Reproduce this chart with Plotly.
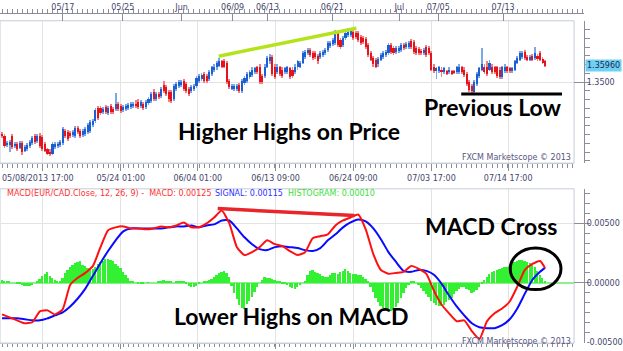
import plotly.graph_objects as go

W, H = 623, 351

# ---------------- data (EUR/CAD, 8h-ish bars) ----------------
open_ = [
    1.3206, 1.3195, 1.3144, 1.3144, 1.3195, 1.3138, 1.3150, 1.3127, 1.3155, 1.3110,
    1.3121, 1.3138, 1.3155, 1.3195, 1.3167, 1.3195, 1.3189, 1.3150, 1.3116, 1.3104,
    1.3093, 1.3133, 1.3138, 1.3144, 1.3155, 1.3223, 1.3217, 1.3212, 1.3201, 1.3195,
    1.3240, 1.3223, 1.3201, 1.3206, 1.3217, 1.3223, 1.3257, 1.3280, 1.3353, 1.3353,
    1.3330, 1.3359, 1.3325, 1.3364, 1.3347, 1.3347, 1.3376, 1.3364, 1.3342, 1.3347,
    1.3353, 1.3359, 1.3364, 1.3376, 1.3387, 1.3364, 1.3376, 1.3359, 1.3381, 1.3393,
    1.3443, 1.3404, 1.3432, 1.3421, 1.3483, 1.3472, 1.3443, 1.3443, 1.3404, 1.3460,
    1.3477, 1.3483, 1.3506, 1.3489, 1.3460, 1.3449, 1.3460, 1.3477, 1.3506, 1.3517,
    1.3545, 1.3534, 1.3517, 1.3545, 1.3568, 1.3585, 1.3596, 1.3619, 1.3619, 1.3613,
    1.3506, 1.3466, 1.3460, 1.3460, 1.3483, 1.3449, 1.3494, 1.3506, 1.3528, 1.3540,
    1.3556, 1.3585, 1.3590, 1.3534, 1.3534, 1.3590, 1.3619, 1.3647, 1.3590, 1.3556,
    1.3585, 1.3573, 1.3556, 1.3556, 1.3579, 1.3573, 1.3556, 1.3585, 1.3590, 1.3613,
    1.3647, 1.3670, 1.3686, 1.3670, 1.3670, 1.3653, 1.3647, 1.3658, 1.3670, 1.3686,
    1.3709, 1.3720, 1.3726, 1.3782, 1.3743, 1.3715, 1.3754, 1.3771, 1.3771, 1.3788,
    1.3782, 1.3782, 1.3760, 1.3754, 1.3749, 1.3715, 1.3670, 1.3641, 1.3630, 1.3602,
    1.3630, 1.3647, 1.3658, 1.3670, 1.3715, 1.3698, 1.3675, 1.3681, 1.3686, 1.3715,
    1.3703, 1.3703, 1.3737, 1.3732, 1.3698, 1.3692, 1.3681, 1.3670, 1.3703, 1.3698,
    1.3670, 1.3590, 1.3562, 1.3562, 1.3573, 1.3556, 1.3562, 1.3556, 1.3562, 1.3562,
    1.3556, 1.3556, 1.3585, 1.3573, 1.3545, 1.3500, 1.3477, 1.3443, 1.3489, 1.3534,
    1.3573, 1.3590, 1.3590, 1.3573, 1.3590, 1.3585, 1.3585, 1.3573, 1.3528, 1.3562,
    1.3585, 1.3579, 1.3562, 1.3573, 1.3613, 1.3630, 1.3647, 1.3675, 1.3647, 1.3630,
    1.3653, 1.3641, 1.3653, 1.3670, 1.3636, 1.3619,
]
high = [
    1.3218, 1.3206, 1.3167, 1.3172, 1.3206, 1.3161, 1.3161, 1.3167, 1.3167, 1.3144,
    1.3155, 1.3172, 1.3195, 1.3206, 1.3206, 1.3212, 1.3201, 1.3161, 1.3127, 1.3116,
    1.3161, 1.3161, 1.3161, 1.3172, 1.3246, 1.3234, 1.3229, 1.3223, 1.3229, 1.3251,
    1.3251, 1.3234, 1.3234, 1.3246, 1.3268, 1.3285, 1.3291, 1.3353, 1.3364, 1.3364,
    1.3359, 1.3370, 1.3364, 1.3376, 1.3359, 1.3438, 1.3387, 1.3376, 1.3370, 1.3376,
    1.3381, 1.3387, 1.3387, 1.3398, 1.3404, 1.3398, 1.3387, 1.3398, 1.3415, 1.3443,
    1.3460, 1.3443, 1.3443, 1.3472, 1.3506, 1.3483, 1.3455, 1.3455, 1.3489, 1.3500,
    1.3511, 1.3511, 1.3517, 1.3500, 1.3472, 1.3483, 1.3489, 1.3534, 1.3545, 1.3551,
    1.3556, 1.3545, 1.3568, 1.3596, 1.3602, 1.3624, 1.3641, 1.3630, 1.3636, 1.3624,
    1.3517, 1.3489, 1.3489, 1.3489, 1.3494, 1.3517, 1.3534, 1.3556, 1.3568, 1.3585,
    1.3590, 1.3596, 1.3602, 1.3545, 1.3602, 1.3653, 1.3664, 1.3658, 1.3602, 1.3602,
    1.3596, 1.3585, 1.3590, 1.3596, 1.3590, 1.3585, 1.3602, 1.3630, 1.3624, 1.3681,
    1.3686, 1.3698, 1.3698, 1.3681, 1.3681, 1.3664, 1.3681, 1.3686, 1.3698, 1.3737,
    1.3737, 1.3754, 1.3799, 1.3794, 1.3754, 1.3766, 1.3794, 1.3811, 1.3811, 1.3799,
    1.3794, 1.3794, 1.3771, 1.3766, 1.3760, 1.3726, 1.3681, 1.3653, 1.3641, 1.3647,
    1.3670, 1.3681, 1.3686, 1.3726, 1.3726, 1.3709, 1.3709, 1.3709, 1.3726, 1.3726,
    1.3732, 1.3737, 1.3749, 1.3743, 1.3709, 1.3703, 1.3692, 1.3698, 1.3715, 1.3709,
    1.3681, 1.3602, 1.3590, 1.3596, 1.3585, 1.3590, 1.3573, 1.3585, 1.3573, 1.3573,
    1.3596, 1.3602, 1.3596, 1.3585, 1.3556, 1.3511, 1.3489, 1.3511, 1.3556, 1.3590,
    1.3698, 1.3602, 1.3619, 1.3630, 1.3602, 1.3596, 1.3596, 1.3585, 1.3596, 1.3602,
    1.3596, 1.3590, 1.3590, 1.3630, 1.3653, 1.3681, 1.3681, 1.3686, 1.3658, 1.3658,
    1.3664, 1.3703, 1.3664, 1.3681, 1.3647, 1.3630,
]
low = [
    1.3184, 1.3127, 1.3133, 1.3099, 1.3121, 1.3127, 1.3110, 1.3116, 1.3082, 1.3099,
    1.3110, 1.3127, 1.3144, 1.3150, 1.3155, 1.3127, 1.3110, 1.3099, 1.3082, 1.3076,
    1.3082, 1.3121, 1.3127, 1.3133, 1.3144, 1.3184, 1.3167, 1.3184, 1.3189, 1.3184,
    1.3206, 1.3184, 1.3189, 1.3195, 1.3206, 1.3212, 1.3246, 1.3268, 1.3285, 1.3314,
    1.3319, 1.3319, 1.3314, 1.3319, 1.3319, 1.3336, 1.3336, 1.3325, 1.3330, 1.3336,
    1.3342, 1.3347, 1.3353, 1.3353, 1.3347, 1.3353, 1.3342, 1.3347, 1.3370, 1.3381,
    1.3393, 1.3393, 1.3404, 1.3410, 1.3438, 1.3421, 1.3387, 1.3381, 1.3393, 1.3449,
    1.3466, 1.3472, 1.3449, 1.3438, 1.3421, 1.3438, 1.3449, 1.3466, 1.3494, 1.3506,
    1.3494, 1.3494, 1.3506, 1.3534, 1.3556, 1.3573, 1.3585, 1.3579, 1.3579, 1.3489,
    1.3460, 1.3455, 1.3449, 1.3449, 1.3438, 1.3438, 1.3483, 1.3494, 1.3517, 1.3528,
    1.3545, 1.3545, 1.3489, 1.3489, 1.3523, 1.3579, 1.3607, 1.3534, 1.3517, 1.3545,
    1.3534, 1.3523, 1.3545, 1.3545, 1.3517, 1.3523, 1.3545, 1.3573, 1.3579, 1.3602,
    1.3636, 1.3658, 1.3647, 1.3630, 1.3636, 1.3607, 1.3636, 1.3647, 1.3658, 1.3675,
    1.3698, 1.3709, 1.3715, 1.3703, 1.3692, 1.3703, 1.3743, 1.3760, 1.3760, 1.3743,
    1.3749, 1.3732, 1.3715, 1.3720, 1.3692, 1.3647, 1.3619, 1.3590, 1.3579, 1.3590,
    1.3619, 1.3636, 1.3647, 1.3658, 1.3664, 1.3658, 1.3664, 1.3670, 1.3675, 1.3686,
    1.3692, 1.3692, 1.3692, 1.3664, 1.3658, 1.3658, 1.3658, 1.3658, 1.3647, 1.3658,
    1.3562, 1.3551, 1.3517, 1.3551, 1.3528, 1.3545, 1.3540, 1.3545, 1.3540, 1.3545,
    1.3545, 1.3545, 1.3545, 1.3528, 1.3477, 1.3443, 1.3438, 1.3438, 1.3477, 1.3523,
    1.3562, 1.3545, 1.3534, 1.3562, 1.3545, 1.3545, 1.3523, 1.3517, 1.3517, 1.3551,
    1.3551, 1.3551, 1.3551, 1.3562, 1.3602, 1.3619, 1.3636, 1.3630, 1.3619, 1.3619,
    1.3619, 1.3630, 1.3624, 1.3619, 1.3602, 1.3590,
]
close = [
    1.3195, 1.3138, 1.3155, 1.3161, 1.3133, 1.3150, 1.3121, 1.3155, 1.3104, 1.3133,
    1.3144, 1.3161, 1.3184, 1.3161, 1.3195, 1.3138, 1.3121, 1.3110, 1.3093, 1.3088,
    1.3150, 1.3150, 1.3150, 1.3161, 1.3234, 1.3195, 1.3178, 1.3195, 1.3217, 1.3240,
    1.3217, 1.3195, 1.3223, 1.3234, 1.3257, 1.3274, 1.3280, 1.3342, 1.3297, 1.3325,
    1.3347, 1.3330, 1.3353, 1.3330, 1.3330, 1.3376, 1.3347, 1.3336, 1.3359, 1.3364,
    1.3370, 1.3376, 1.3376, 1.3364, 1.3359, 1.3387, 1.3353, 1.3387, 1.3404, 1.3432,
    1.3404, 1.3432, 1.3415, 1.3460, 1.3449, 1.3432, 1.3404, 1.3393, 1.3477, 1.3489,
    1.3500, 1.3500, 1.3460, 1.3449, 1.3432, 1.3472, 1.3477, 1.3523, 1.3534, 1.3540,
    1.3506, 1.3506, 1.3556, 1.3585, 1.3590, 1.3613, 1.3624, 1.3590, 1.3590, 1.3500,
    1.3472, 1.3477, 1.3477, 1.3477, 1.3449, 1.3506, 1.3523, 1.3545, 1.3556, 1.3573,
    1.3579, 1.3556, 1.3500, 1.3500, 1.3590, 1.3641, 1.3647, 1.3545, 1.3528, 1.3590,
    1.3545, 1.3534, 1.3579, 1.3585, 1.3528, 1.3534, 1.3590, 1.3619, 1.3613, 1.3670,
    1.3675, 1.3686, 1.3658, 1.3641, 1.3647, 1.3619, 1.3670, 1.3675, 1.3686, 1.3726,
    1.3726, 1.3743, 1.3788, 1.3715, 1.3703, 1.3754, 1.3782, 1.3788, 1.3799, 1.3754,
    1.3760, 1.3743, 1.3726, 1.3732, 1.3703, 1.3658, 1.3630, 1.3602, 1.3590, 1.3636,
    1.3658, 1.3670, 1.3675, 1.3715, 1.3675, 1.3670, 1.3698, 1.3698, 1.3715, 1.3698,
    1.3720, 1.3726, 1.3703, 1.3675, 1.3670, 1.3670, 1.3670, 1.3686, 1.3658, 1.3670,
    1.3573, 1.3562, 1.3579, 1.3585, 1.3556, 1.3579, 1.3551, 1.3573, 1.3551, 1.3556,
    1.3585, 1.3590, 1.3556, 1.3540, 1.3489, 1.3455, 1.3449, 1.3500, 1.3545, 1.3579,
    1.3602, 1.3556, 1.3545, 1.3613, 1.3556, 1.3556, 1.3534, 1.3528, 1.3585, 1.3590,
    1.3562, 1.3562, 1.3579, 1.3619, 1.3641, 1.3670, 1.3670, 1.3641, 1.3630, 1.3647,
    1.3630, 1.3670, 1.3636, 1.3630, 1.3613, 1.3596,
]

histogram = [
    0.00025, 0.00017, 0.00008, 0.00008, 0.0, 0.0, -0.00008, -0.00008, -0.00017, -0.00025,
    -0.00025, -0.00025, -0.00017, 0.0, 0.00017, 0.00033, 0.00058, 0.00075, 0.00092, 0.00058,
    0.00042, 0.00025, 0.00017, 0.00017, 0.00042, 0.00083, 0.00108, 0.00133, 0.00150, 0.00167,
    0.00175, 0.00183, 0.00150, 0.00142, 0.00125, 0.00108, 0.00117, 0.00133, 0.00158, 0.00175,
    0.00183, 0.00200, 0.00200, 0.00192, 0.00183, 0.00158, 0.00142, 0.00125, 0.00092, 0.00067,
    0.00042, 0.00017, 0.00008, 0.0, -0.00008, -0.00008, -0.00008, 0.0, 0.00004, 0.0,
    0.0, 0.0, 0.00008, 0.00017, 0.00025, 0.00017, 0.00008, 0.00008, 0.0, 0.00008,
    0.00008, 0.00017, 0.00008, -0.00008, -0.00025, -0.00033, -0.00033, -0.00025, -0.00008, 0.0,
    0.00008, 0.00017, 0.00025, 0.00033, 0.00050, 0.00067, 0.00083, 0.00092, 0.00100, 0.00083,
    0.00050, -0.00025, -0.00083, -0.00133, -0.00183, -0.00208, -0.00217, -0.00175, -0.00150, -0.00117,
    -0.00075, -0.00033, 0.0, 0.00025, 0.00050, 0.00042, 0.00042, 0.00033, 0.00025, 0.00017,
    0.00008, -0.00008, -0.00008, -0.00017, -0.00033, -0.00042, -0.00050, -0.00033, -0.00017, 0.0,
    0.00008, 0.00067, 0.00100, 0.00108, 0.00092, 0.00083, 0.00075, 0.00058, 0.00050, 0.00050,
    0.00067, 0.00083, 0.00083, 0.00075, 0.00092, 0.00100, 0.00117, 0.00100, 0.00083, 0.00075,
    0.00075, 0.00067, 0.00067, 0.00050, 0.00033, 0.00008, -0.00033, -0.00075, -0.00125, -0.00158,
    -0.00192, -0.00208, -0.00217, -0.00233, -0.00233, -0.00225, -0.00200, -0.00167, -0.00125, -0.00083,
    -0.00042, -0.00017, 0.00008, 0.00008, 0.0, -0.00017, -0.00042, -0.00067, -0.00092, -0.00117,
    -0.00150, -0.00167, -0.00183, -0.00192, -0.00192, -0.00183, -0.00158, -0.00142, -0.00125, -0.00092,
    -0.00067, -0.00050, -0.00033, -0.00033, -0.00050, -0.00058, -0.00083, -0.00075, -0.00058, -0.00033,
    -0.00008, 0.00025, 0.00050, 0.00075, 0.00092, 0.00100, 0.00108, 0.00117, 0.00125, 0.00133,
    0.00133, 0.00142, 0.00158, 0.00175, 0.00183, 0.00192, 0.00192, 0.00183, 0.00175, 0.00167,
    0.00150, 0.00133, 0.00100, 0.00067, 0.00042, 0.00008,
]

macd = [
    -0.00267, -0.00292, -0.00317, -0.00342, -0.00333, -0.00242, -0.00233, -0.00267, -0.00225, -0.00017,
    0.00042, 0.00083, 0.00142, 0.00300, 0.00442, 0.00467, 0.00475, 0.00458, 0.00458, 0.00450,
    0.00458, 0.00475, 0.00467, 0.00483, 0.00508, 0.00467, 0.00467, 0.00500, 0.00550, 0.00608,
    0.00500, 0.00300, 0.00233, 0.00258, 0.00300, 0.00358, 0.00325, 0.00308, 0.00267, 0.00233,
    0.00258, 0.00375, 0.00392, 0.00408, 0.00483, 0.00525, 0.00550, 0.00575, 0.00450, 0.00242,
    0.00108, 0.00075, 0.00083, 0.00092, 0.00142, 0.00117, 0.00075, -0.00067, -0.00183, -0.00258,
    -0.00325, -0.00317, -0.00408, -0.00475, -0.00325, -0.00258, -0.00217, -0.00158, -0.00033, 0.00108,
    0.00158, 0.00183, 0.00125,
]
signal = [
    -0.00300, -0.00300, -0.00300, -0.00308, -0.00317, -0.00317, -0.00300, -0.00275, -0.00250, -0.00200,
    -0.00133, -0.00050, 0.00058, 0.00167, 0.00267, 0.00358, 0.00433, 0.00458, 0.00458, 0.00458,
    0.00458, 0.00458, 0.00467, 0.00475, 0.00475, 0.00483, 0.00467, 0.00483, 0.00492, 0.00525,
    0.00525, 0.00458, 0.00383, 0.00325, 0.00283, 0.00275, 0.00300, 0.00308, 0.00300, 0.00292,
    0.00275, 0.00267, 0.00292, 0.00358, 0.00408, 0.00467, 0.00508, 0.00533, 0.00517, 0.00458,
    0.00367, 0.00258, 0.00175, 0.00100, 0.00092, 0.00108, 0.00100, 0.00067, -0.00008, -0.00108,
    -0.00200, -0.00275, -0.00342, -0.00375, -0.00383, -0.00383, -0.00358, -0.00308, -0.00217, -0.00092,
    0.00025, 0.00092, 0.00125,
]

bottom_tick_pos = [16.2, 47.0, 77.5, 108.3, 139.1, 170.0, 200.4]
bottom_tick_text = ["", "05/24 01:00", "06/04 01:00", "06/13 09:00", "06/24 09:00", "07/03 17:00", "07/14 17:00"]
first_label = "05/08/2013 17:00"
top_tick_pos = [24.1, 47.8, 71.1, 91.3, 105.1, 130.8, 157.3, 172.7, 198.4]
top_tick_text = ["05/17", "05/25", "Jun", "06/09", "06/13", "06/21", "Jul", "07/05", "07/13"]

price_trend_x = [85.8, 140.3]
price_trend_y = [1.3648, 1.3808]
prev_low_x = [181.8, 221.7]
prev_low_y = [1.3432, 1.3432]
macd_trend_x = [85.4, 139.5]
macd_trend_y = [0.00625, 0.00567]
cross_x = [201.2, 221.3]
cross_y = [-0.00058, 0.00292]

n_bars = len(close)
bar_idx = list(range(n_bars))
macd_idx = list(range(0, n_bars - 2, 3)) + [n_bars - 1]

# candle geometry derived from OHLC
UP_BODY, DN_BODY = "#1b5fd2", "#e5141c"
UP_WICK, DN_WICK = "#7ea6ea", "#f27f84"
is_up = [c >= o for o, c in zip(open_, close)]
body_base = [min(o, c) for o, c in zip(open_, close)]
body_len = [max(abs(c - o), 0.00045) for o, c in zip(open_, close)]
wick_len = [h - l for h, l in zip(high, low)]
body_col = [UP_BODY if u else DN_BODY for u in is_up]
wick_col = [UP_WICK if u else DN_WICK for u in is_up]

# ---------------- layout helpers (pixels -> paper) ----------------
def fx(p):
    return p / W

def fy(p):
    return 1 - p / H

X_RANGE = [-2 / 2.53, (575 - 2) / 2.53]
X_RANGE_WIDE = [-2 / 2.53, (585 - 2) / 2.53]
P_RANGE = [1.396895 - 0.000565 * 165, 1.396895 - 0.000565 * 21]
M_RANGE = [(286 - 347) / 12000, (286 - 191) / 12000]

TICK_FONT = dict(family="DejaVu Sans", size=8, color="#45456a")
AXC = "#8c8c9c"
GRID = "#e3e3e3"

fig = go.Figure()

fig.add_trace(go.Bar(x=bar_idx, y=wick_len, base=low, width=0.36,
                     marker=dict(color=wick_col, line=dict(width=0)),
                     xaxis="x", yaxis="y", showlegend=False, hoverinfo="skip"))
fig.add_trace(go.Bar(x=bar_idx, y=body_len, base=body_base, width=0.82,
                     marker=dict(color=body_col, line=dict(width=0)),
                     xaxis="x", yaxis="y", showlegend=False, hoverinfo="skip"))
fig.add_trace(go.Scatter(x=price_trend_x, y=price_trend_y, mode="lines",
                         line=dict(color="#b4e31c", width=3.5), xaxis="x", yaxis="y",
                         showlegend=False, hoverinfo="skip"))
fig.add_trace(go.Scatter(x=prev_low_x, y=prev_low_y, mode="lines",
                         line=dict(color="#000000", width=3), xaxis="x", yaxis="y",
                         showlegend=False, hoverinfo="skip"))

fig.add_trace(go.Bar(x=bar_idx, y=histogram, marker=dict(color="#33f033", line=dict(width=0)),
                     width=0.72, xaxis="x2", yaxis="y2", showlegend=False, hoverinfo="skip"))
fig.add_trace(go.Scatter(x=macd_idx, y=signal, mode="lines", line=dict(color="#0a0aff", width=2, shape="spline", smoothing=0.6),
                         xaxis="x2", yaxis="y2", showlegend=False, hoverinfo="skip"))
fig.add_trace(go.Scatter(x=macd_idx, y=macd, mode="lines", line=dict(color="#ff1010", width=2, shape="spline", smoothing=0.5),
                         xaxis="x2", yaxis="y2", showlegend=False, hoverinfo="skip"))
fig.add_trace(go.Scatter(x=macd_trend_x, y=macd_trend_y, mode="lines",
                         line=dict(color="#e8252a", width=3.5), xaxis="x2", yaxis="y2",
                         showlegend=False, hoverinfo="skip"))
# dummy trace carrying the top ruler axis
fig.add_trace(go.Scatter(x=[X_RANGE_WIDE[0]], y=[0], mode="markers", marker=dict(opacity=0),
                         xaxis="x3", yaxis="y3", showlegend=False, hoverinfo="skip"))

top_dom = [fy(165), fy(21)]
bot_dom = [fy(347), fy(191)]

fig.update_layout(
    width=W, height=H, margin=dict(l=0, r=0, t=0, b=0),
    paper_bgcolor="white", plot_bgcolor="white", bargap=0, barmode="overlay",
    xaxis=dict(domain=[0, fx(575)], range=X_RANGE, anchor="y",
               tickmode="array", tickvals=bottom_tick_pos, ticktext=bottom_tick_text,
               showgrid=True, gridcolor=GRID, gridwidth=1, zeroline=False,
               showline=True, linecolor="#c6ccd6", ticks="outside", ticklen=7, tickcolor=AXC,
               tickfont=TICK_FONT,
               minor=dict(tickmode="linear", tick0=0, dtick=2, ticklen=4, tickcolor=AXC, showgrid=False)),
    yaxis=dict(domain=top_dom, range=P_RANGE, side="right", anchor="free", position=fx(585),
               tickmode="array", tickvals=[1.35], ticktext=["1.3500"],
               showgrid=True, gridcolor=GRID, zeroline=False,
               showline=True, linecolor=AXC, ticks="inside", ticklen=10, tickcolor=AXC,
               tickfont=TICK_FONT,
               minor=dict(tickmode="linear", tick0=1.35, dtick=0.005, ticklen=5, tickcolor=AXC, showgrid=False)),
    xaxis2=dict(domain=[0, fx(575)], range=X_RANGE, anchor="y2",
                tickmode="array", tickvals=bottom_tick_pos, showticklabels=False,
                showgrid=True, gridcolor=GRID, zeroline=False,
                showline=True, linecolor="#c6ccd6", ticks="outside", ticklen=5, tickcolor=AXC,
                minor=dict(tickmode="linear", tick0=0, dtick=2, ticklen=3, tickcolor=AXC, showgrid=False)),
    yaxis2=dict(domain=bot_dom, range=M_RANGE, side="right", anchor="free", position=fx(585),
                tickmode="array", tickvals=[-0.005, 0.0, 0.005], ticktext=["-0.00500", "0.00000", "0.00500"],
                showgrid=True, gridcolor=GRID, zeroline=True, zerolinecolor="#8fef8f", zerolinewidth=2,
                showline=True, linecolor=AXC, ticks="inside", ticklen=10, tickcolor=AXC,
                tickfont=TICK_FONT,
                minor=dict(tickmode="linear", tick0=0, dtick=0.005 / 6, ticklen=5, tickcolor=AXC, showgrid=False)),
    xaxis3=dict(domain=[0, fx(585)], range=X_RANGE_WIDE, anchor="free", position=fy(13), side="top",
                tickmode="array", tickvals=top_tick_pos, ticktext=top_tick_text,
                showgrid=False, zeroline=False, showline=True, linecolor=AXC,
                ticks="inside", ticklen=7, tickcolor=AXC, tickfont=TICK_FONT,
                minor=dict(tickmode="linear", tick0=0, dtick=2, ticklen=4, tickcolor=AXC, showgrid=False)),
    yaxis3=dict(domain=[fy(14), fy(13)], visible=False, anchor="x3"),
)

# plot frames
for xr, yr in (("x domain", "y domain"), ("x2 domain", "y2 domain")):
    fig.add_shape(type="rect", xref=xr, yref=yr, x0=0, x1=1, y0=0, y1=1,
                  line=dict(color="#c6ccd6", width=1), layer="below")

# MACD cross ellipse
fig.add_shape(type="circle", xref="x2", yref="y2", x0=cross_x[0], x1=cross_x[1],
              y0=cross_y[0], y1=cross_y[1], line=dict(color="black", width=3))

big = dict(family="Lato", size=23, color="black")
def add_text(txt, cx, cy, font=big, xanchor="center"):
    fig.add_annotation(text=txt, x=fx(cx), y=fy(cy), xref="paper", yref="paper",
                       showarrow=False, font=font, xanchor=xanchor, yanchor="middle")

add_text("<b>Higher Highs on Price</b>", 289, 133)
add_text("<b>Previous Low</b>", 494, 108)
add_text("<b>Lower Highs on MACD</b>", 292, 320)
add_text("<b>MACD Cross</b>", 492, 229)

small = dict(family="DejaVu Sans", size=8, color="#55557f")
fig.add_annotation(text="FXCM Marketscope © 2013", x=fx(574), y=fy(159), xref="paper", yref="paper",
                   showarrow=False, font=small, xanchor="right", yanchor="middle")
fig.add_annotation(text="FXCM Marketscope © 2013", x=fx(574), y=fy(345), xref="paper", yref="paper",
                   showarrow=False, font=small, xanchor="right", yanchor="middle")

fig.add_annotation(text=first_label, x=0, y=fy(181), xref="paper", yref="paper",
                   showarrow=False, font=TICK_FONT, xanchor="left", yanchor="middle")

hdr = lambda c: dict(family="DejaVu Sans", size=8, color=c)
fig.add_annotation(text="MACD(EUR/CAD.Close, 12, 26, 9) -  MACD: 0.00125", x=fx(5), y=fy(196),
                   xref="paper", yref="paper", showarrow=False, font=hdr("#ff3030"), xanchor="left", yanchor="middle")
fig.add_annotation(text="SIGNAL: 0.00115", x=fx(213), y=fy(196),
                   xref="paper", yref="paper", showarrow=False, font=hdr("#3030ff"), xanchor="left", yanchor="middle")
fig.add_annotation(text="HISTOGRAM: 0.00010", x=fx(286), y=fy(196),
                   xref="paper", yref="paper", showarrow=False, font=hdr("#3ae03a"), xanchor="left", yanchor="middle")

fig.add_annotation(text="1.35960", x=fx(586), y=close[-1], xref="paper", yref="y",
                   showarrow=False, font=dict(family="DejaVu Sans", size=8, color="#1a2a4a"),
                   bgcolor="#6fd0f5", xanchor="left", yanchor="middle", borderpad=1)

fig.write_html("out.html")
